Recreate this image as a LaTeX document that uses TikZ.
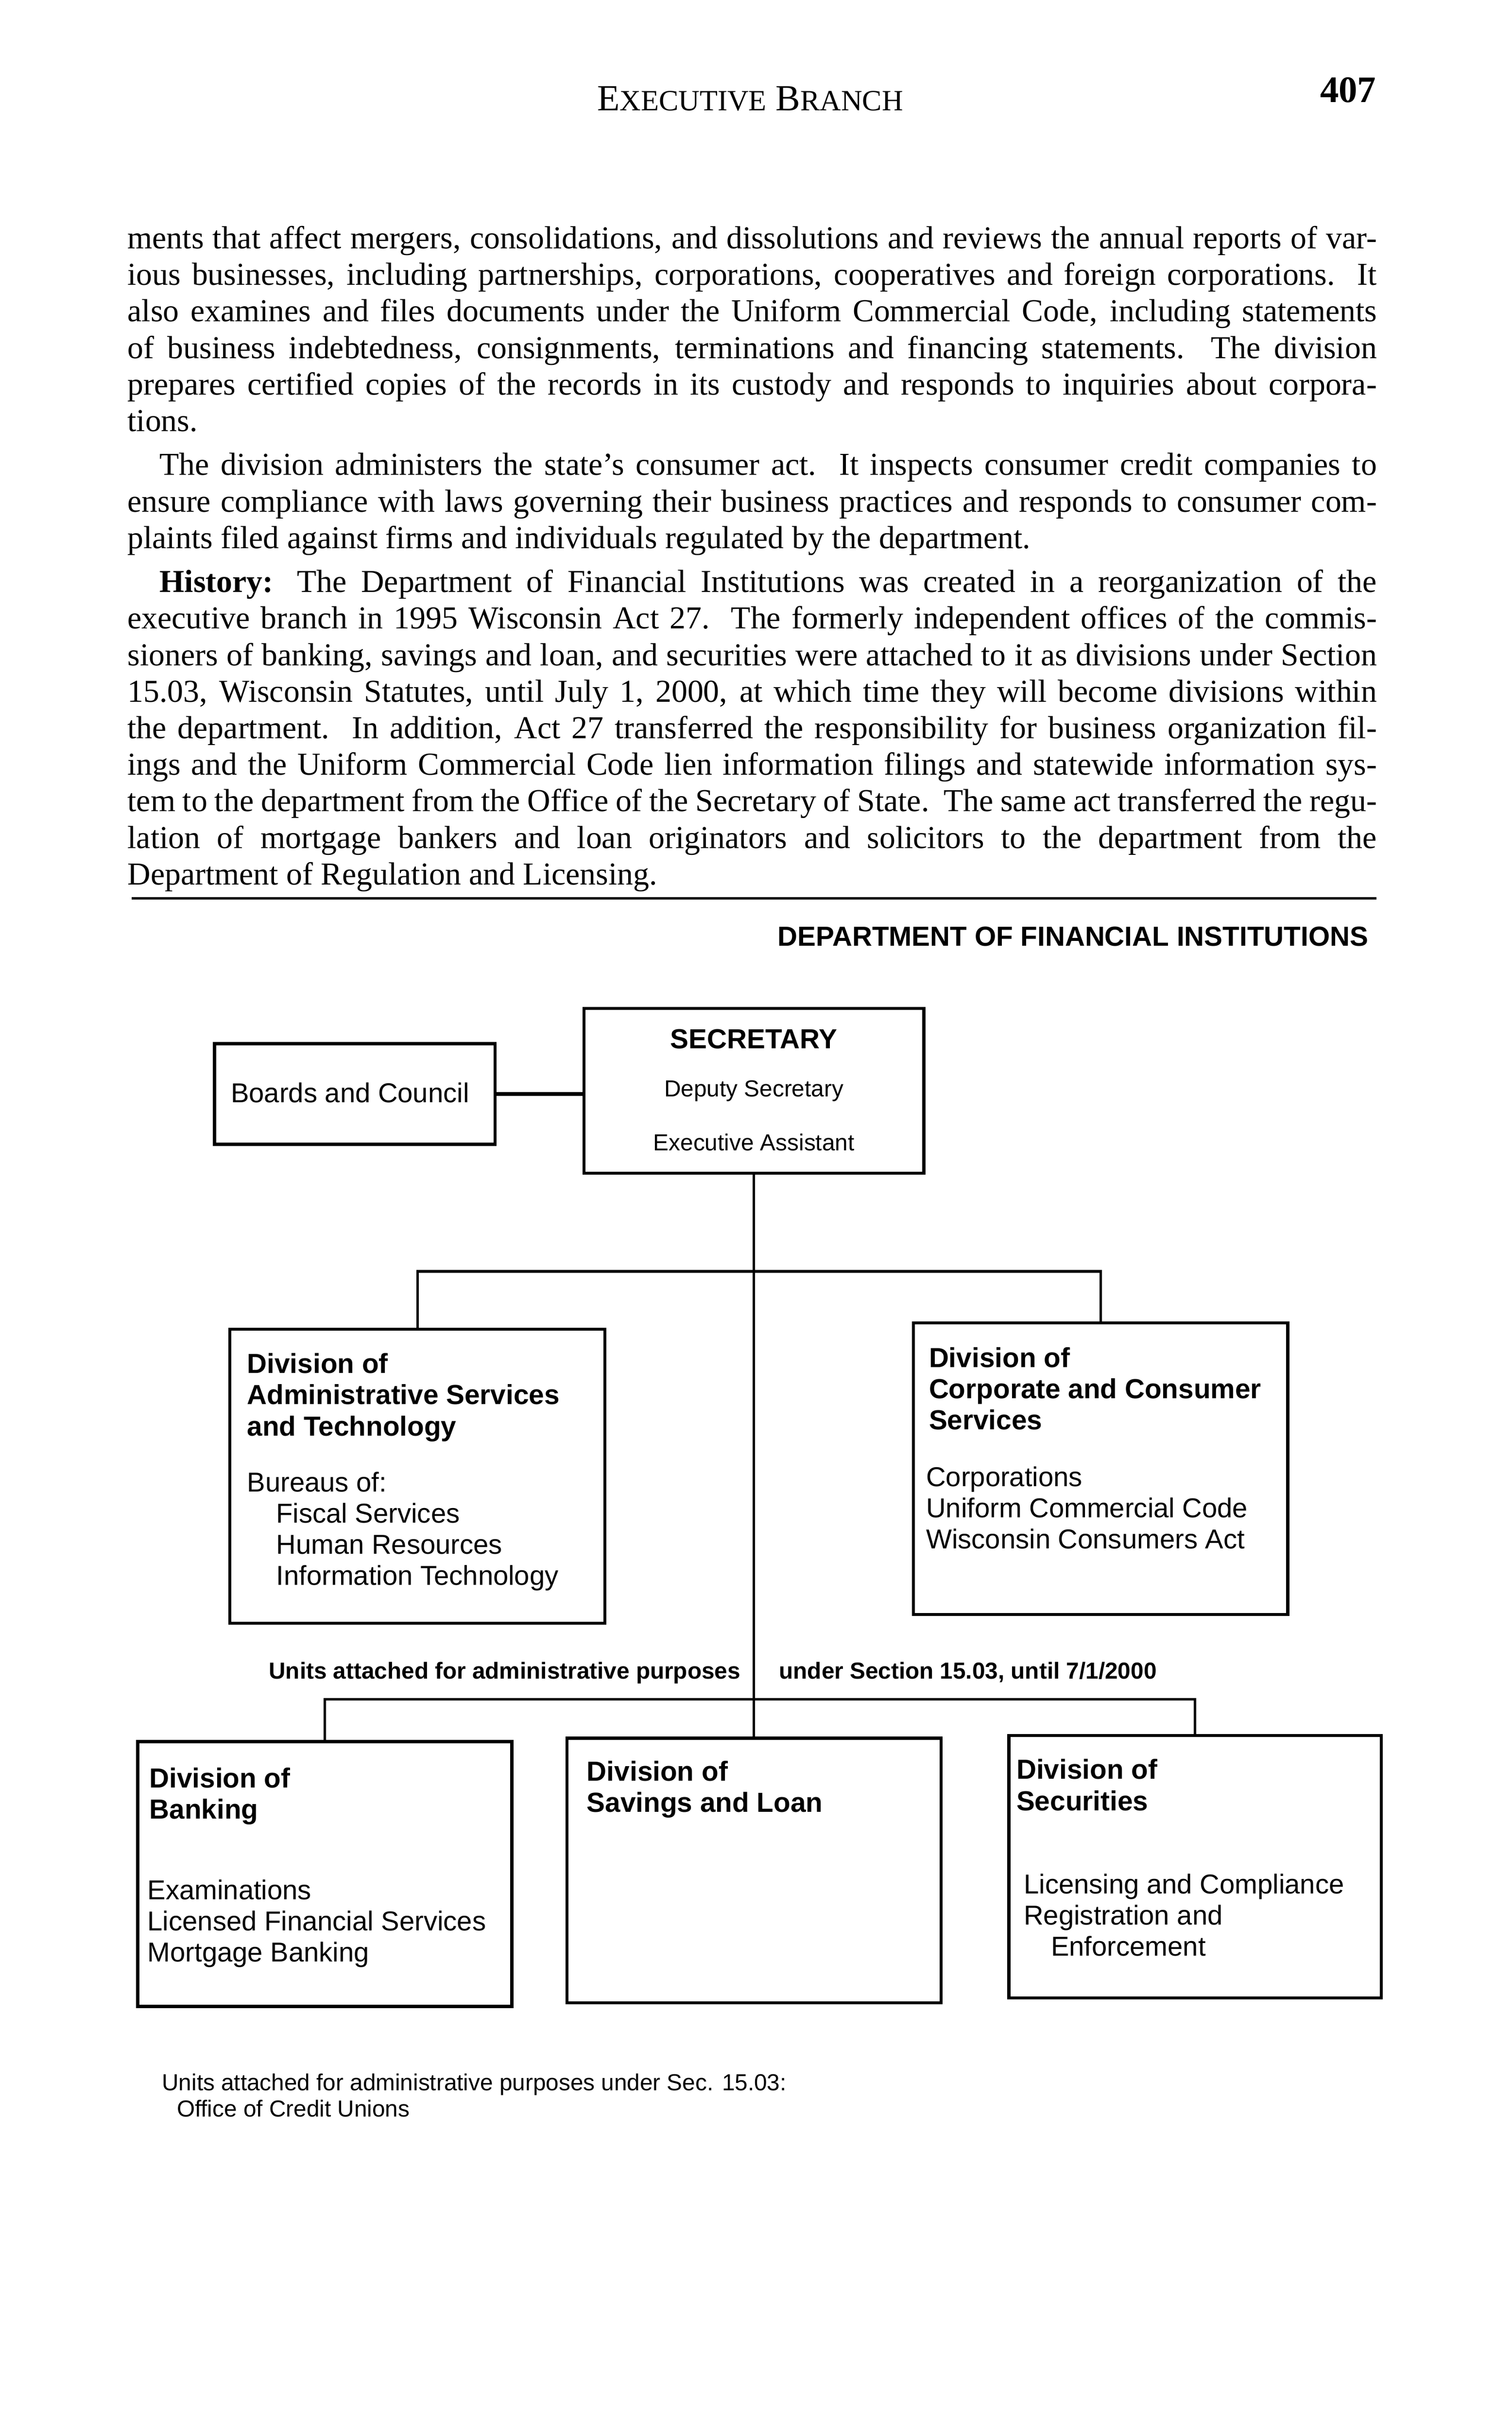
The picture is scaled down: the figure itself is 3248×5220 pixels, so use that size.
\documentclass[tikz,border=0pt]{standalone}
\usepackage{fontspec}
\setmainfont{Liberation Serif}
\newfontfamily\chartfont{Liberation Sans}
\usetikzlibrary{positioning, fit}
\newcommand\rows[1]{\begin{tabular}[t]{@{}l@{}}#1\end{tabular}}

\begin{document}
\begin{tikzpicture}[x=0.180675pt, y=-0.180675pt,
		unit/.style={draw, line width=1.2pt, inner sep=0pt},
		link/.style={line width=1pt},
		head/.style={font=\chartfont\bfseries\fontsize{10.7}{12.1}\selectfont, inner sep=0pt, anchor=base west},
		item/.style={font=\chartfont\fontsize{10.6}{12.1}\selectfont, inner sep=0pt, anchor=base west},
		small/.style={font=\chartfont\fontsize{9}{10.1}\selectfont, inner sep=0pt},
		note/.style={font=\chartfont\bfseries\fontsize{9}{10.1}\selectfont, inner sep=0pt}]
		\useasboundingbox (0,0) rectangle (3248,5220);
		% page head and text
		\node[font=\fontsize{14.3}{17}\selectfont, anchor=base, inner sep=0pt] (runhead) at (1612,237) {E{\fontsize{11.4}{14}\selectfont XECUTIVE} B{\fontsize{11.4}{14}\selectfont RANCH}};
		\node[font=\bfseries\fontsize{14.5}{17}\selectfont, anchor=base east, inner sep=0pt] (pageno) at (2958,220) {407};
		\node[font=\fontsize{12.4}{14.18}\selectfont, anchor=base west, inner sep=0pt] (body) at (273,534) {\vtop{\hsize=485pt
			\hbox to\hsize{ments that affect mergers, consolidations, and dissolutions and reviews the annual reports of var-}
			\hbox to\hsize{ious businesses, including partnerships, corporations, cooperatives and foreign corporations.\ \ It}
			\hbox to\hsize{also examines and files documents under the Uniform Commercial Code, including statements}
			\hbox to\hsize{of business indebtedness, consignments, terminations and financing statements.\ \ The division}
			\hbox to\hsize{prepares certified copies of the records in its custody and responds to inquiries about corpora-}
			\hbox{tions.}
			\vskip2.9pt
			\hbox to\hsize{\hskip12.5pt The division administers the state’s consumer act.\ \ It inspects consumer credit companies to}
			\hbox to\hsize{ensure compliance with laws governing their business practices and responds to consumer com-}
			\hbox{plaints filed against firms and individuals regulated by the department.}
			\vskip2.9pt
			\hbox to\hsize{\hskip12.5pt\textbf{History:} The Department of Financial Institutions was created in a reorganization of the}
			\hbox to\hsize{executive branch in 1995 Wisconsin Act 27.\ \ The formerly independent offices of the commis-}
			\hbox to\hsize{sioners of banking, savings and loan, and securities were attached to it as divisions under Section}
			\hbox to\hsize{15.03, Wisconsin Statutes, until July 1, 2000, at which time they will become divisions within}
			\hbox to\hsize{the department.\ \ In addition, Act 27 transferred the responsibility for business organization fil-}
			\hbox to\hsize{ings and the Uniform Commercial Code lien information filings and statewide information sys-}
			\hbox to\hsize{tem to the department from the Office of the Secretary of State.\ \ The same act transferred the regu-}
			\hbox to\hsize{lation of mortgage bankers and loan originators and solicitors to the department from the}
			\hbox{Department of Regulation and Licensing.}}};
		\draw[line width=1pt] (283,1930) -- (2958,1930);
		\node[note, font=\chartfont\bfseries\fontsize{10.7}{12}\selectfont, anchor=base east] (depttitle) at (2941,2032) {DEPARTMENT OF FINANCIAL INSTITUTIONS};
		% boxes
		\node[unit, fit={(1255,2166) (1985,2520)}] (sec) {};
		\node[unit, fit={(461,2242) (1064,2458)}] (board) {};
		\node[unit, fit={(494,2855) (1300,3487)}] (adm) {};
		\node[unit, fit={(1963,2842) (2767,3468)}] (corp) {};
		\node[unit, fit={(296,3741) (1100,4310)}] (bank) {};
		\node[unit, fit={(1218,3734) (2022,4302)}] (sav) {};
		\node[unit, fit={(2168,3728) (2968,4292)}] (secur) {};
		% box texts
		\node[head, anchor=base] (sectitle) at (1620,2252) {SECRETARY};
		\node[small, anchor=base] (secdep) at (1620,2356) {Deputy Secretary};
		\node[small, anchor=base] (secexec) at (1620,2472) {Executive Assistant};
		\node[item] (boardtext) at (495,2368) {Boards and Council};
		\node[head] (admhead) at (530,2950) {\rows{Division of\\Administrative Services\\and Technology}};
		\node[item] (admlist) at (530,3204) {\rows{Bureaus of:\\\hspace{11.3pt}Fiscal Services\\\hspace{11.3pt}Human Resources\\\hspace{11.3pt}Information Technology}};
		\node[head] (corphead) at (1995,2937) {\rows{Division of\\Corporate and Consumer\\Services}};
		\node[item] (corplist) at (1989,3193) {\rows{Corporations\\Uniform Commercial Code\\Wisconsin Consumers Act}};
		\node[head] (bankhead) at (320,3840) {\rows{Division of\\Banking}};
		\node[item] (banklist) at (316,4080) {\rows{Examinations\\Licensed Financial Services\\Mortgage Banking}};
		\node[head] (savhead) at (1260,3826) {\rows{Division of\\Savings and Loan}};
		\node[head] (securhead) at (2183,3822) {\rows{Division of\\Securities}};
		\node[item] (securlist) at (2199,4068) {\rows{Licensing and Compliance\\Registration and\\\hspace{10.5pt}Enforcement}};
		\node[note, anchor=base east] (attachl) at (1592,3606) {Units attached for administrative purposes};
		\node[note, anchor=base west] (attachr) at (1673,3606) {under Section 15.03, until 7/1/2000};
		\node[small, anchor=base west] (credit) at (347,4491) {\rows{Units attached for administrative purposes under Sec. 15.03:\\\hspace{5.8pt}Office of Credit Unions}};
		% connectors
		\coordinate (upperbar) at (1620,2731);
		\coordinate (lowerbar) at (1620,3650);
		\draw[link, line width=1.6pt] (board.east) -- (board.east -| sec.west);
		\draw[link] (sec.south) -- (sav.north);
		\draw[link] (adm.north) |- (upperbar) -| (corp.north);
		\draw[link] (bank.north) |- (lowerbar) -| (secur.north);
	\end{tikzpicture}
\end{document}
